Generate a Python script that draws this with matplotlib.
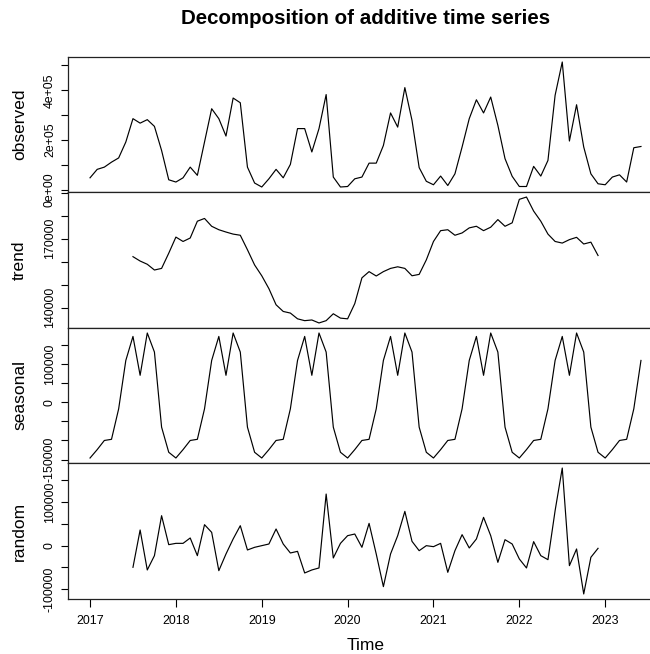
import matplotlib
matplotlib.use("Agg")
import matplotlib.pyplot as plt
import numpy as np

plt.rcParams["font.family"] = ["Liberation Sans", "DejaVu Sans"]

# monthly series, Jan 2017 .. Jun 2023
start_year = 2017
observed = [
    48000, 82000, 91000, 111000, 128000, 192000, 286000, 268000, 282000, 255000, 158000, 40000,
    31000, 48000, 91000, 58000, 192000, 326000, 286000, 216000, 369000, 350000, 91000, 27000,
    11000, 44000, 82000, 48000, 102000, 246000, 246000, 152000, 246000, 383000, 51000, 11000,
    13000, 44000, 51000, 107000, 107000, 178000, 309000, 252000, 411000, 279000, 89000, 34000,
    20000, 55000, 17000, 64000, 172000, 286000, 362000, 309000, 373000, 259000, 125000, 54000,
    13000, 13000, 94000, 55000, 118000, 380000, 514000, 196000, 342000, 172000, 64000, 24000,
    20000, 51000, 60000, 31000, 169000, 174000,
]
# trend / random: Jul 2017 .. Dec 2022 (6 missing at each end)
trend = [
    162200, 160300, 158900, 156400, 157100, 163700,
    170700, 168800, 170300, 177600, 178800, 175400, 173900, 172900, 172000, 171500, 165200, 158600,
    153900, 148300, 141300, 138400, 137700, 135200, 134400, 134700, 133400, 134400, 137400, 135500,
    135200, 141800, 153000, 155700, 153800, 155700, 157100, 157800, 157100, 153900, 154500, 160800,
    168800, 173500, 173900, 171500, 172500, 174700, 175400, 173500, 175000, 178300, 175400, 176900,
    187100, 188100, 182000, 177600, 172000, 168800, 168100, 169600, 170600, 167700, 168500, 162700,
]
seasonal_month = [-146000, -124000, -100000, -97000, -17000, 110000,
                  173000, 71000, 182000, 132000, -65000, -131000]
random_part = [
    -49600, 35900, -55700, -22900, 68700, 2300,
    5300, 5300, 17600, -22900, 48100, 30500, -57300, -19100, 15300, 45800, -9900, -3800,
    0, 3800, 38200, 3800, -16800, -13000, -62600, -55700, -51100, 118300, -28200, 5300,
    22900, 26700, -3800, 51100, -19100, -93900, -19100, 22900, 78600, 9900, -11500, 0,
    -2300, 5300, -61100, -11500, 25200, -5300, 15300, 64900, 22900, -38200, 13700, 3800,
    -30500, -51100, 9200, -22900, -32100, 80200, 177900, -45800, -7600, -110700, -26700, -6100,
]

n = len(observed)
t = start_year + np.arange(n) / 12
pad = np.full(6, np.nan)
trend_full = np.concatenate([pad, trend, pad])
random_full = np.concatenate([pad, random_part, pad])
seasonal_full = np.resize(seasonal_month, n)

panels = [
    ("observed", observed, [0, 1e5, 2e5, 3e5, 4e5, 5e5],
     ["0e+00", "", "2e+05", "", "4e+05", ""]),
    ("trend", trend_full, [140000, 150000, 160000, 170000, 180000, 190000],
     ["140000", "", "", "170000", "", ""]),
    ("seasonal", seasonal_full, [-150000, -100000, -50000, 0, 50000, 100000, 150000],
     ["-150000", "", "", "0", "", "100000", ""]),
    ("random", random_full, [-100000, -50000, 0, 50000, 100000, 150000],
     ["-100000", "", "0", "", "100000", ""]),
]

W, H = 650, 654
fig = plt.figure(figsize=(6.5, 6.54), dpi=100)

tops = [57, 192, 328, 463]
bottoms = [192, 328, 463, 599]
left_px, right_px = 68, 663

span = t[-1] - t[0]
xlim = (t[0] - 0.04 * span, t[-1] + 0.04 * span)

for i, (name, vals, ticks, labels) in enumerate(panels):
    ax = fig.add_axes([left_px / W, 1 - bottoms[i] / H,
                       (right_px - left_px) / W, (bottoms[i] - tops[i]) / H])
    v = np.asarray(vals, dtype=float)
    ax.plot(t, v, color="black", lw=0.85)
    lo, hi = np.nanmin(v), np.nanmax(v)
    r = hi - lo
    ax.set_ylim(lo - 0.04 * r, hi + 0.04 * r)
    ax.set_xlim(*xlim)
    ax.set_yticks(ticks)
    ax.set_yticklabels(labels)
    ax.tick_params(axis="y", direction="out", length=4.7, width=0.8, pad=4,
                   labelsize=8.9, colors="black")
    for lab in ax.get_yticklabels():
        lab.set_rotation(90)
        lab.set_va("center")
    for s in ax.spines.values():
        s.set_linewidth(0.9)
        s.set_color("#222222")
    if i < 3:
        ax.set_xticks([])
    else:
        ax.set_xticks(range(2017, 2024))
        ax.tick_params(axis="x", direction="out", length=5.5, width=0.8, pad=6,
                       labelsize=8.9)
    fig.text(19.5 / W, 1 - (tops[i] + bottoms[i]) / 2 / H, name, rotation=90,
             ha="center", va="center", fontsize=12.5)

fig.text((left_px + right_px) / 2 / W, 1 - 19 / H, "Decomposition of additive time series",
         ha="center", va="center", fontsize=14.8, fontweight="bold")
fig.text((left_px + right_px) / 2 / W, 1 - 645 / H, "Time",
         ha="center", va="center", fontsize=12.5)

fig.savefig("out.png", dpi=100)
